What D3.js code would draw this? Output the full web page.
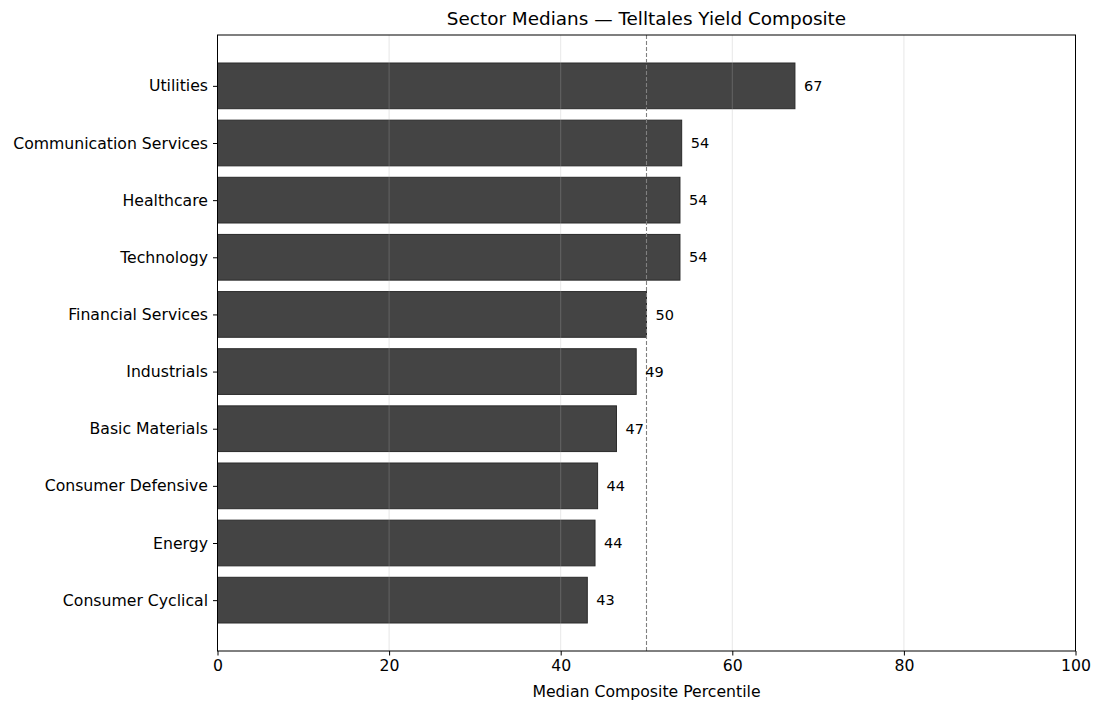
<!DOCTYPE html>
<html><head><meta charset="utf-8">
<script src="https://cdn.jsdelivr.net/npm/d3@7"></script>
<style>body{margin:0;background:#fff}svg{display:block}text{font-family:"DejaVu Sans",sans-serif;fill:#000}</style>
</head><body>
<script>
const categories = ["Consumer Cyclical","Energy","Consumer Defensive","Basic Materials","Industrials","Financial Services","Technology","Healthcare","Communication Services","Utilities"];
const values = [43.1, 44.0, 44.3, 46.5, 48.8, 50.0, 53.9, 53.9, 54.1, 67.3];
const xTicks = [0, 20, 40, 60, 80, 100];
const medianLine = 50;
const title = "Sector Medians — Telltales Yield Composite";
const xLabel = "Median Composite Percentile";

const W = 1100, H = 711;
const m = {left: 217.5, right: 1075.5, top: 35, bottom: 651};
const svg = d3.select("body").append("svg").attr("width", W).attr("height", H);

const x = d3.scaleLinear().domain([0, 100]).range([m.left, m.right]);
const y = d3.scaleLinear().domain([-0.89, 9.89]).range([m.bottom, m.top]);
const bh = y(0) - y(0.8);

// bars
svg.append("g").selectAll("rect").data(values).join("rect")
  .attr("x", x(0)).attr("y", (d, i) => y(i + 0.4))
  .attr("width", d => x(d) - x(0)).attr("height", bh)
  .attr("fill", "#444444").attr("stroke", "#2a2a2a").attr("stroke-width", 1);

// grid on top
svg.append("g").selectAll("line").data(xTicks).join("line")
  .attr("x1", d => x(d)).attr("x2", d => x(d)).attr("y1", m.top).attr("y2", m.bottom)
  .attr("stroke", "#b0b0b0").attr("stroke-opacity", 0.3).attr("stroke-width", 1);

// median dashed line
svg.append("line").attr("x1", x(medianLine)).attr("x2", x(medianLine))
  .attr("y1", m.top).attr("y2", m.bottom)
  .attr("stroke", "#808080").attr("stroke-width", 1.1).attr("stroke-dasharray", "4,2");

// value labels
svg.append("g").selectAll("text").data(values).join("text")
  .attr("x", d => x(d) + 9).attr("y", (d, i) => y(i)).attr("dy", "0.35em")
  .attr("font-size", 14.5).text(d => Math.round(d));

// frame
svg.append("rect").attr("x", m.left).attr("y", m.top).attr("width", m.right - m.left).attr("height", m.bottom - m.top)
  .attr("fill", "none").attr("stroke", "#000").attr("stroke-width", 1);

// x axis
const xa = svg.append("g").attr("transform", `translate(0,${m.bottom})`)
  .call(d3.axisBottom(x).tickValues(xTicks).tickSize(4.5).tickPadding(4).tickFormat(d3.format("d")));
xa.select(".domain").remove();
xa.selectAll("text").attr("font-size", 15.7).style("font-family", '"DejaVu Sans",sans-serif');

// y axis
const ya = svg.append("g").attr("transform", `translate(${m.left},0)`)
  .call(d3.axisLeft(y).tickValues(d3.range(categories.length)).tickSize(4.5).tickPadding(5).tickFormat(i => categories[i]));
ya.select(".domain").remove();
ya.selectAll("text").attr("font-size", 15.7).style("font-family", '"DejaVu Sans",sans-serif');

// title & label
svg.append("text").attr("x", (m.left + m.right) / 2).attr("y", 24.5).attr("text-anchor", "middle")
  .attr("font-size", 18.4).text(title);
svg.append("text").attr("x", (m.left + m.right) / 2).attr("y", 696.5).attr("text-anchor", "middle")
  .attr("font-size", 15.7).text(xLabel);
</script>
</body></html>
